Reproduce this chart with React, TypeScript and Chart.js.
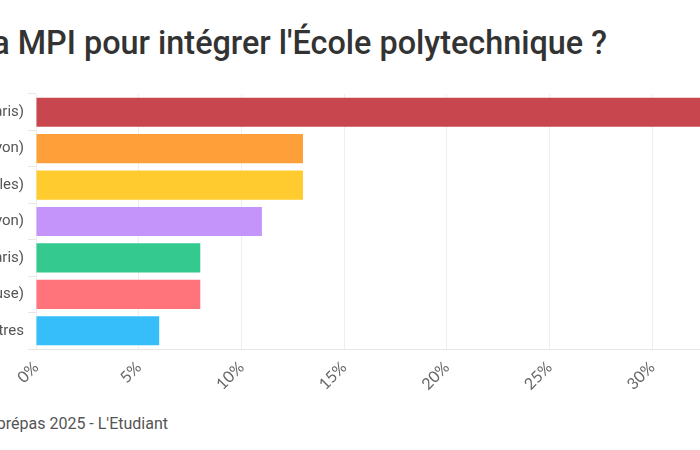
import React, { useEffect, useRef } from "react";
import { Chart, registerables } from "chart.js";

Chart.register(...registerables);

const categories = [
  "Louis-le-Grand (Paris)",
  "Parc (Lyon)",
  "Sainte-Geneviève (Versailles)",
  "Sainte-Marie (Lyon)",
  "Henri-IV (Paris)",
  "Pierre-de-Fermat (Toulouse)",
  "Autres",
];
const values = [37, 13, 13, 11, 8, 8, 6];
const barColors = ["#c8474e", "#ff9f3a", "#ffcb2f", "#c594fb", "#33c98f", "#ff737b", "#36befa"];
const xMax = 40;
const xStep = 5;

const titleText = "Quels lycées envoient le plus d'élèves de prépa MPI pour intégrer l'École polytechnique ?";
const sourceText = "Source : Classement des prépas 2025 - L'Etudiant";

export default function App() {
  const ref = useRef<HTMLCanvasElement | null>(null);

  useEffect(() => {
    if (!ref.current) return;
    const chart = new Chart(ref.current, {
      type: "bar",
      data: {
        labels: categories,
        datasets: [
          {
            data: values,
            backgroundColor: barColors,
            borderWidth: 0,
            barPercentage: 1,
            categoryPercentage: 0.8,
          },
        ],
      },
      options: {
        indexAxis: "y",
        animation: false,
        responsive: false,
        maintainAspectRatio: false,
        layout: { padding: { top: 14, right: 20, left: 0, bottom: 0 } },
        plugins: { legend: { display: false }, tooltip: { enabled: false } },
        scales: {
          x: {
            min: 0,
            max: xMax,
            ticks: {
              stepSize: xStep,
              minRotation: 45,
              maxRotation: 45,
              color: "#666",
              padding: 9,
              font: { family: "Lato", size: 16 },
              callback: (v: any) => v + "%",
            },
            grid: { color: "#eeeeee", drawTicks: false },
            border: { color: "#e6e6e6" },
            afterFit: (s: any) => {
              s.height = 60;
            },
          },
          y: {
            ticks: {
              color: "#555",
              font: { family: "Roboto", size: 15 },
              padding: 4,
            },
            grid: { drawOnChartArea: false, drawTicks: true, tickLength: 8, color: "#e6e6e6" },
            border: { display: false },
            afterFit: (s: any) => {
              s.width = 200;
            },
          },
        },
      },
    });
    return () => chart.destroy();
  }, []);

  return (
    <div
      style={{
        position: "fixed",
        top: 0,
        left: 0,
        width: 700,
        height: 450,
        overflow: "hidden",
        background: "#fff",
      }}
    >
      <div
        style={{
          position: "absolute",
          right: 93,
          top: 24,
          whiteSpace: "nowrap",
          fontFamily: "Roboto",
          fontWeight: 500,
          fontSize: 32.4,
          color: "#333",
        }}
      >
        {titleText}
      </div>
      <canvas
        ref={ref}
        width={1044}
        height={329}
        style={{ position: "absolute", left: -164.5, top: 80, width: 1044, height: 329 }}
      />
      <div
        style={{
          position: "absolute",
          right: 532,
          top: 414,
          whiteSpace: "nowrap",
          fontFamily: "Roboto",
          fontSize: 16,
          color: "#555",
        }}
      >
        {sourceText}
      </div>
    </div>
  );
}
